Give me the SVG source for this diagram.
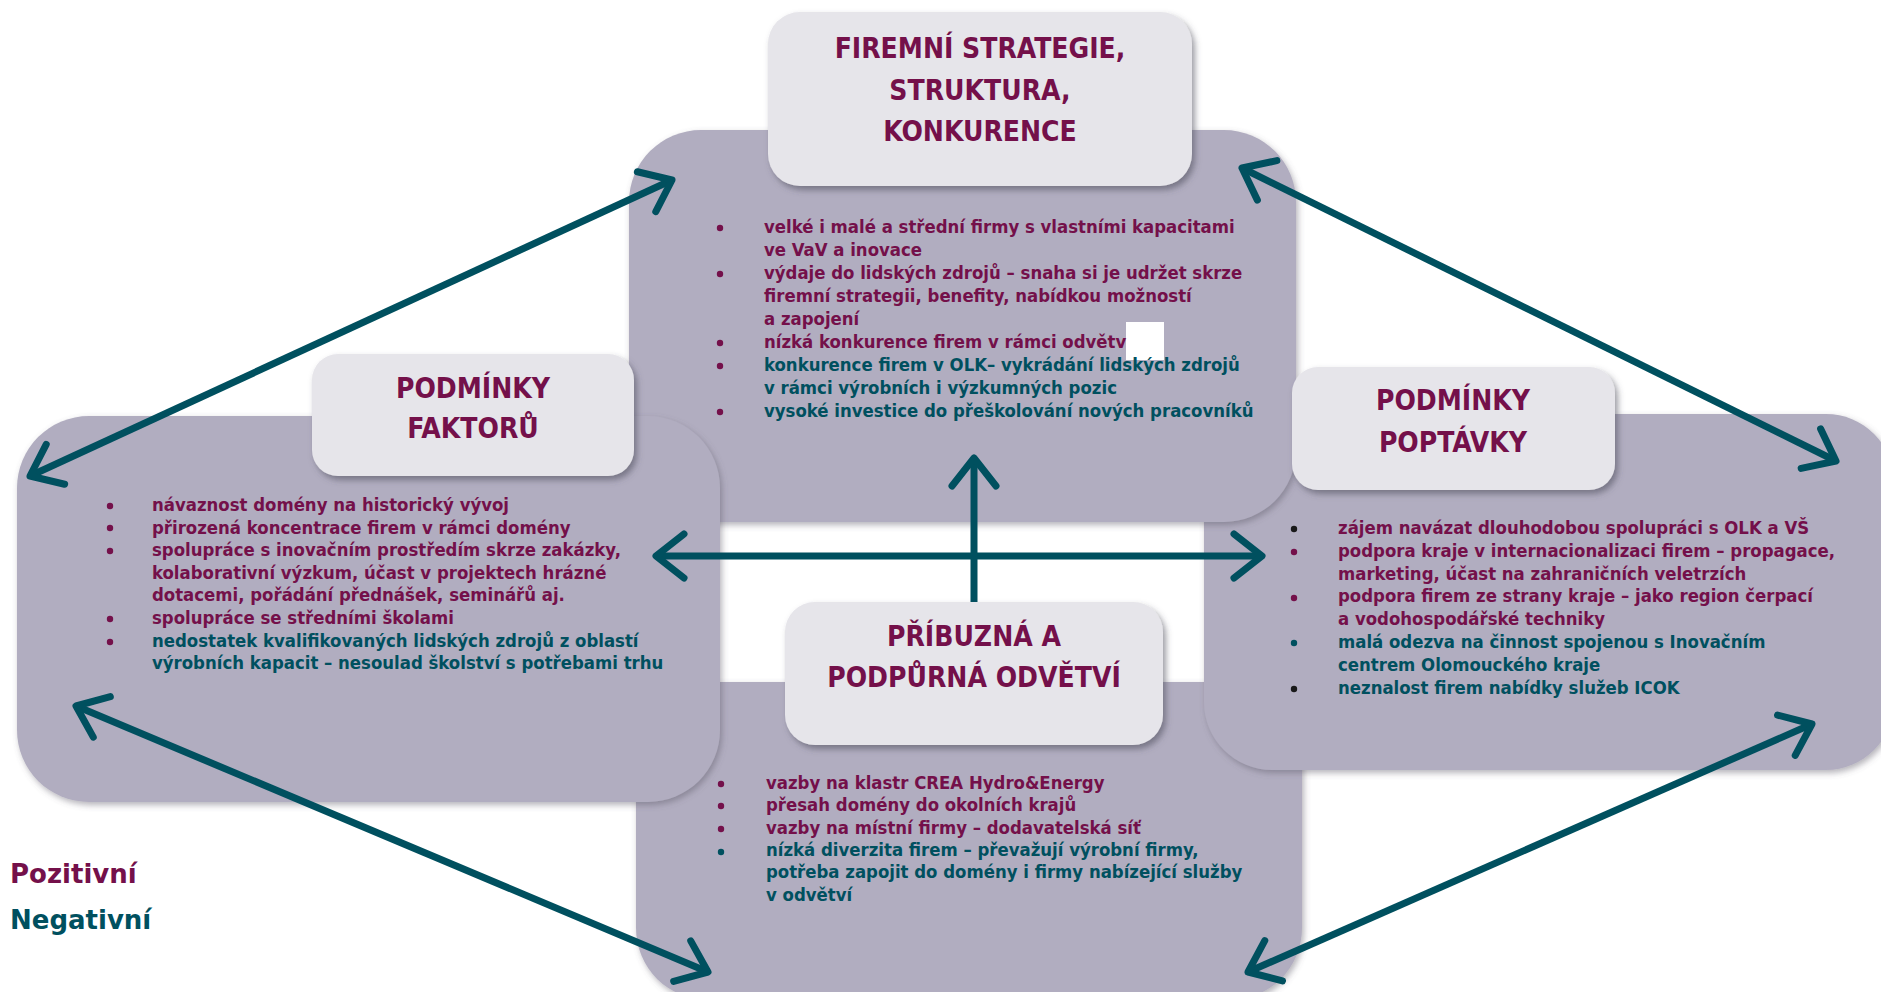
<svg xmlns="http://www.w3.org/2000/svg" width="1881" height="992" viewBox="0 0 1881 992">
<defs>
<filter id="sh" x="-10%" y="-10%" width="125%" height="130%">
<feDropShadow dx="3" dy="4" stdDeviation="3" flood-color="#4a4656" flood-opacity="0.55"/>
</filter>
<filter id="shp" x="-10%" y="-10%" width="125%" height="130%">
<feDropShadow dx="2" dy="3" stdDeviation="3" flood-color="#5a5666" flood-opacity="0.45"/>
</filter>
<marker id="ah" viewBox="-40 -30 50 60" refX="0" refY="0" markerWidth="50" markerHeight="60" markerUnits="userSpaceOnUse" orient="auto-start-reverse">
<path d="M-28,-22 L0,0 L-28,22" fill="none" stroke="#00505f" stroke-width="7" stroke-linecap="round" stroke-linejoin="round"/>
</marker>
</defs>
<style>
.panel{fill:#b1adc0;filter:url(#shp)}
.tbox{fill:#e6e5ea;filter:url(#sh)}
.title{font-family:'DejaVu Sans Condensed','DejaVu Sans',sans-serif;font-stretch:condensed;font-weight:bold;font-size:28px;fill:#74104a;text-anchor:middle}
.t{font-family:'DejaVu Sans Condensed','DejaVu Sans',sans-serif;font-stretch:condensed;font-weight:bold;font-size:18.4px}
.m{fill:#74104a}
.n{fill:#00505f}
.k{fill:#1a1a1a}
.leg{font-family:'DejaVu Sans',sans-serif;font-weight:bold;font-size:26px}
.conn{fill:none;stroke:#00505f;stroke-width:7}
</style>
<rect width="1881" height="992" fill="#ffffff"/>

<g id="panel-bottom">
<rect class="panel" x="636" y="682" width="666" height="318" rx="72"/>
</g>
<g id="panel-right">
<rect class="panel" x="1204" y="414" width="690" height="356" rx="68"/>
</g>
<g id="panel-top">
<rect class="panel" x="629" y="130" width="667" height="392" rx="72"/>
</g>
<g id="panel-left">
<rect class="panel" x="17" y="416" width="703" height="386" rx="72"/>
</g>

<g id="text-top">
<rect x="1126" y="322" width="38" height="38" fill="#ffffff"/>
<circle class="m" cx="720" cy="228" r="3.2"/>
<circle class="m" cx="720" cy="274" r="3.2"/>
<circle class="m" cx="720" cy="343" r="3.2"/>
<circle class="m" cx="720" cy="366" r="3.2"/>
<circle class="m" cx="720" cy="412" r="3.2"/>
<text class="t m" x="764" y="233">velké i malé a střední firmy s vlastními kapacitami</text>
<text class="t m" x="764" y="256">ve VaV a inovace</text>
<text class="t m" x="764" y="279">výdaje do lidských zdrojů – snaha si je udržet skrze</text>
<text class="t m" x="764" y="302">firemní strategii, benefity, nabídkou možností</text>
<text class="t m" x="764" y="325">a zapojení</text>
<text class="t m" x="764" y="348">nízká konkurence firem v rámci odvětv</text>
<text class="t n" x="764" y="371">konkurence firem v OLK– vykrádání lidských zdrojů</text>
<text class="t n" x="764" y="394">v rámci výrobních i výzkumných pozic</text>
<text class="t n" x="764" y="417">vysoké investice do přeškolování nových pracovníků</text>
</g>

<g id="text-left">
<circle class="m" cx="110" cy="506" r="3.2"/>
<circle class="m" cx="110" cy="528" r="3.2"/>
<circle class="m" cx="110" cy="551" r="3.2"/>
<circle class="m" cx="110" cy="619" r="3.2"/>
<circle class="m" cx="110" cy="642" r="3.2"/>
<text class="t m" x="152" y="511">návaznost domény na historický vývoj</text>
<text class="t m" x="152" y="533.6">přirozená koncentrace firem v rámci domény</text>
<text class="t m" x="152" y="556.2">spolupráce s inovačním prostředím skrze zakázky,</text>
<text class="t m" x="152" y="578.8">kolaborativní výzkum, účast v projektech hrázné</text>
<text class="t m" x="152" y="601.4">dotacemi, pořádání přednášek, seminářů aj.</text>
<text class="t m" x="152" y="624">spolupráce se středními školami</text>
<text class="t n" x="152" y="646.6">nedostatek kvalifikovaných lidských zdrojů z oblastí</text>
<text class="t n" x="152" y="669.2">výrobních kapacit – nesoulad školství s potřebami trhu</text>
</g>

<g id="text-right">
<circle class="k" cx="1294" cy="529" r="3.2"/>
<circle class="m" cx="1294" cy="552" r="3.2"/>
<circle class="m" cx="1294" cy="598" r="3.2"/>
<circle class="n" cx="1294" cy="643" r="3.2"/>
<circle class="k" cx="1294" cy="689" r="3.2"/>
<text class="t m" x="1338" y="534">zájem navázat dlouhodobou spolupráci s OLK a VŠ</text>
<text class="t m" x="1338" y="556.8">podpora kraje v internacionalizaci firem – propagace,</text>
<text class="t m" x="1338" y="579.6">marketing, účast na zahraničních veletrzích</text>
<text class="t m" x="1338" y="602.4">podpora firem ze strany kraje – jako region čerpací</text>
<text class="t m" x="1338" y="625.2">a vodohospodářské techniky</text>
<text class="t n" x="1338" y="648">malá odezva na činnost spojenou s Inovačním</text>
<text class="t n" x="1338" y="670.8">centrem Olomouckého kraje</text>
<text class="t n" x="1338" y="694">neznalost firem nabídky služeb ICOK</text>
</g>

<g id="text-bottom">
<circle class="m" cx="721" cy="784" r="3.2"/>
<circle class="m" cx="721" cy="806" r="3.2"/>
<circle class="m" cx="721" cy="829" r="3.2"/>
<circle class="n" cx="721" cy="852" r="3.2"/>
<text class="t m" x="766" y="789">vazby na klastr CREA Hydro&amp;Energy</text>
<text class="t m" x="766" y="811.3">přesah domény do okolních krajů</text>
<text class="t m" x="766" y="833.6">vazby na místní firmy – dodavatelská síť</text>
<text class="t n" x="766" y="855.9">nízká diverzita firem – převažují výrobní firmy,</text>
<text class="t n" x="766" y="878.2">potřeba zapojit do domény i firmy nabízející služby</text>
<text class="t n" x="766" y="900.5">v odvětví</text>
</g>

<g id="connectors">
<path class="conn" d="M672,180 L30,476" marker-start="url(#ah)" marker-end="url(#ah)"/>
<path class="conn" d="M1242,168 L1836,461" marker-start="url(#ah)" marker-end="url(#ah)"/>
<path class="conn" d="M76,706 L708,972" marker-start="url(#ah)" marker-end="url(#ah)"/>
<path class="conn" d="M1812,724 L1248,972" marker-start="url(#ah)" marker-end="url(#ah)"/>
<path class="conn" d="M656,556 L1262,556" marker-start="url(#ah)" marker-end="url(#ah)"/>
<path class="conn" d="M974,602 L974,458" marker-end="url(#ah)"/>
</g>

<g id="node-firemni">
<rect class="tbox" x="768" y="12" width="424" height="174" rx="32"/>
<text class="title" x="980" y="58">FIREMNÍ STRATEGIE,</text>
<text class="title" x="980" y="100">STRUKTURA,</text>
<text class="title" x="980" y="141">KONKURENCE</text>
</g>
<g id="node-faktory">
<rect class="tbox" x="312" y="354" width="322" height="122" rx="26"/>
<text class="title" x="473" y="398">PODMÍNKY</text>
<text class="title" x="473" y="438">FAKTORŮ</text>
</g>
<g id="node-poptavka">
<rect class="tbox" x="1292" y="367" width="323" height="123" rx="26"/>
<text class="title" x="1453" y="410">PODMÍNKY</text>
<text class="title" x="1453" y="452">POPTÁVKY</text>
</g>
<g id="node-pribuzna">
<rect class="tbox" x="785" y="602" width="378" height="143" rx="30"/>
<text class="title" x="974" y="646">PŘÍBUZNÁ A</text>
<text class="title" x="974" y="687">PODPŮRNÁ ODVĚTVÍ</text>
</g>

<g id="legend">
<text class="leg m" x="10" y="883">Pozitivní</text>
<text class="leg n" x="10" y="929">Negativní</text>
</g>
</svg>
